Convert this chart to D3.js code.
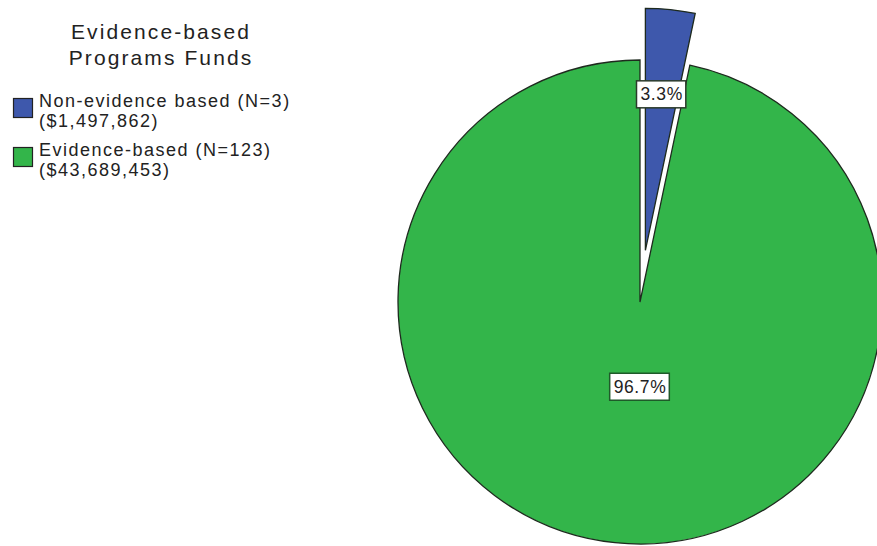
<!DOCTYPE html>
<html>
<head>
<meta charset="utf-8">
<script src="https://cdn.jsdelivr.net/npm/d3@7"></script>
<style>
  html, body { margin: 0; padding: 0; background: #fff; }
  svg { display: block; }
  text { font-family: "Liberation Sans", Arial, sans-serif; fill: #222; }
</style>
</head>
<body>
<svg id="chart" width="877" height="546"></svg>
<script>
// Funding split by program type
const categories = ["Non-evidence based (N=3)", "Evidence-based (N=123)"];
const amountLabels = ["($1,497,862)", "($43,689,453)"];
const amounts = [1497862, 43689453];
const percentLabels = ["3.3%", "96.7%"];
const percents = [3.3, 96.7];
const colors = ["#3e58ac", "#33b54a"];
const legendTitle = ["Evidence-based", "Programs Funds"];

const svg = d3.select("#chart");

// ---- Pie ----
const cx = 640, cy = 302, radius = 242;
const explode = [52, 0];          // pull-out distance per slice
const labelFrac = [0.65, 0.35];    // label distance as share of radius

const pie = d3.pie().sort(null).value(d => d).startAngle(0).endAngle(2 * Math.PI);
const arcs = pie(percents);
const arc = d3.arc().innerRadius(0).outerRadius(radius);

const pieG = svg.append("g").attr("transform", `translate(${cx},${cy})`);

const offset = (d, i) => {
  const mid = (d.startAngle + d.endAngle) / 2;
  return [explode[i] * Math.sin(mid), -explode[i] * Math.cos(mid)];
};

pieG.append("g").selectAll("path")
  .data(arcs)
  .join("path")
  .attr("transform", (d, i) => `translate(${offset(d, i)})`)
  .attr("d", arc)
  .attr("fill", (d, i) => colors[i])
  .attr("stroke", "#1e2a1e")
  .attr("stroke-width", 1.3)
  .attr("stroke-linejoin", "miter");

// value boxes, drawn above all slices
const labelFont = 17.5;
const labelLayer = pieG.append("g");
arcs.forEach((d, i) => {
  const mid = (d.startAngle + d.endAngle) / 2;
  const r = radius * labelFrac[i];
  const [ox, oy] = offset(d, i);
  const x = ox + r * Math.sin(mid) * (i === 1 ? 0 : 1);
  const y = oy - r * Math.cos(mid);
  const g = labelLayer.append("g").attr("transform", `translate(${x},${y})`);
  const t = g.append("text")
    .attr("text-anchor", "middle")
    .attr("dy", "0.36em")
    .attr("font-size", labelFont)
    .attr("letter-spacing", 0.6)
    .text(percentLabels[i]);
  const bb = t.node().getBBox();
  g.insert("rect", "text")
    .attr("x", bb.x - 4)
    .attr("y", -13)
    .attr("width", bb.width + 7)
    .attr("height", 27)
    .attr("fill", "#fff")
    .attr("stroke", i === 0 ? "#2b3b2b" : "#1f5a2a")
    .attr("stroke-width", 1.5);
});

// ---- Legend ----
const legend = svg.append("g");

legend.selectAll("text.title")
  .data(legendTitle)
  .join("text")
  .attr("class", "title")
  .attr("x", 161)
  .attr("y", (d, i) => 39 + i * 26)
  .attr("text-anchor", "middle")
  .attr("font-size", 21)
  .attr("letter-spacing", 2.1)
  .attr("fill", "#333")
  .text(d => d);

const items = legend.selectAll("g.item")
  .data(categories)
  .join("g")
  .attr("class", "item")
  .attr("transform", (d, i) => `translate(0,${i * 49})`);

items.append("rect")
  .attr("x", 13.5)
  .attr("y", 98.5)
  .attr("width", 19)
  .attr("height", 19)
  .attr("fill", (d, i) => colors[i])
  .attr("stroke", "#222")
  .attr("stroke-width", 1.2);

items.append("text")
  .attr("x", 39)
  .attr("y", 107)
  .attr("font-size", 18)
  .attr("letter-spacing", 1.5)
  .text(d => d);

items.append("text")
  .attr("x", 39)
  .attr("y", 127)
  .attr("font-size", 18)
  .attr("letter-spacing", 1.5)
  .text((d, i) => amountLabels[i]);
</script>
</body>
</html>
